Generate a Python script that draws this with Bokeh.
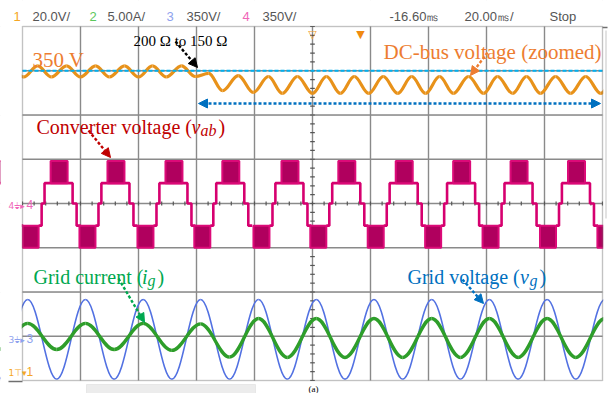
import numpy as np
from bokeh.plotting import figure
from bokeh.models import Label, Arrow, NormalHead, Range1d, BoxAnnotation
from bokeh.embed import file_html
from bokeh.resources import INLINE

# ---------------- data, in screen divisions (x: 20 ms/div, y: per channel scale) -------------
# Grid voltage v_g (ch3, 350 V/div): extrema times [div] and levels [div]
vg_t = [-0.41, 0.09, 0.59, 1.085, 1.58, 2.08, 2.575, 3.07, 3.57, 4.07, 4.565,
        5.065, 5.56, 6.06, 6.555, 7.055, 7.55, 8.05, 8.545, 9.045, 9.54, 10.04]
vg_v = [-3.97, -2.17, -3.97, -2.17, -3.97, -2.17, -3.97, -2.17, -3.97, -2.17, -3.97,
        -2.17, -3.97, -2.17, -3.97, -2.17, -3.97, -2.17, -3.97, -2.17, -3.97, -2.17]

# Grid current i_g (ch2, 5 A/div): extrema levels (same instants as v_g)
ig_t = vg_t
ig_v = [-3.30, -2.71, -3.30, -2.71, -3.30, -2.71, -3.32, -2.72, -3.47, -2.60, -3.48,
        -2.60, -3.48, -2.60, -3.48, -2.60, -3.48, -2.60, -3.48, -2.60, -3.48, -2.60]

# DC-bus voltage, zoomed (ch1, 20 V/div): ripple extrema
vdc_t = [-0.23, 0.02, 0.26, 0.50, 0.76, 1.00, 1.26, 1.50, 1.76, 2.00, 2.24, 2.48, 2.74,
         2.98, 3.21, 3.45, 3.72, 3.98, 4.24, 4.48, 4.74, 5.00, 5.24, 5.48, 5.72, 5.97,
         6.22, 6.47, 6.71, 6.95, 7.19, 7.43, 7.69, 7.95, 8.19, 8.45, 8.69, 8.93, 9.19,
         9.45, 9.71, 9.97, 10.22]
vdc_v = [3.11, 2.86, 3.11, 2.86, 3.11, 2.86, 3.11, 2.86, 3.11, 2.86, 3.11, 2.86, 3.11,
         2.87, 2.94, 2.55, 2.89, 2.51, 2.87, 2.49, 2.87, 2.49, 2.87, 2.49, 2.87, 2.49,
         2.87, 2.49, 2.87, 2.49, 2.87, 2.49, 2.87, 2.49, 2.87, 2.49, 2.87, 2.49, 2.87,
         2.49, 2.87, 2.49, 2.87]
vdc_ref = 3.0          # 350 V reference line

# Converter voltage v_ab (ch4, 350 V/div): centres of negative PWM blocks [div]
vab_c = [-0.85, 0.14, 1.12, 2.12, 3.10, 4.12, 5.10, 6.09, 7.08, 8.07, 9.06, 10.05]
# one-period staircase: offsets from block centre, levels
vab_pat_dt = [0.138, 0.19, 0.19, 0.24, 0.24, 0.345, 0.638, 0.724, 0.724, 0.793, 0.793, 0.862]
vab_pat_lv = [-0.50, -0.50, 0.0, 0.0, 0.46, 0.46, 0.46, 0.46, 0.0, 0.0, -0.50, -0.50]
vab_blk_lo = [-0.138, 0.138, -1.0, -0.50]   # negative block: t0, t1, y0, y1
vab_blk_hi = [0.345, 0.638, 0.46, 0.96]     # positive block

header = [("1", "#F5A623"), ("20.0V/", "#555555"), ("2", "#5CC85C"), ("5.00A/", "#555555"),
          ("3", "#8EA2EE"), ("350V/", "#555555"), ("4", "#F066B8"), ("350V/", "#555555"),
          ("-16.60\u33b3", "#555555"), ("20.00\u33b3/", "#555555"), ("Stop", "#555555")]
header_px = [13, 32, 89, 107, 166, 186, 242, 262, 389, 464, 549]

# ---------------- figure: canvas == frame, scope screen mapped to 0..10 x -4..4 -------------
W, H = 611, 393
X0, DX, Y0, DY = 22.0, 58.0, 203.0, 44.25   # picture pixel mapping
def dx(px):
    return (px - X0) / DX
def dy(py):
    return (Y0 - py) / DY

p = figure(width=W, height=H, x_range=Range1d(dx(0), dx(W)), y_range=Range1d(dy(H), dy(0)),
           output_backend="svg", toolbar_location=None,
           x_axis_location=None, y_axis_location=None,
           min_border_left=0, min_border_right=0, min_border_top=0, min_border_bottom=0)
p.outline_line_color = None
p.background_fill_color = "white"
p.border_fill_color = "white"

gcol = "#8a8a8a"
gx = list(range(1, 10))
gy = list(range(-3, 4))
p.segment(x0=gx, y0=-4, x1=gx, y1=4, line_color=gcol, line_width=1.4)
p.segment(x0=0, y0=gy, x1=10, y1=gy, line_color=gcol, line_width=1.4)
# minor ticks on centre axes
tx = np.arange(0, 10.01, 0.2)
p.segment(x0=tx, y0=-0.045, x1=tx, y1=0.045, line_color="#555555", line_width=1.2)
ty = np.arange(-4, 4.01, 0.2)
p.segment(x0=5 - 0.04, y0=ty, x1=5 + 0.04, y1=ty, line_color="#555555", line_width=1.2)


def bez(t, v, color, width):
    k = 1 - 2 / np.pi
    t = np.asarray(t, float)
    v = np.asarray(v, float)
    d = t[1:] - t[:-1]
    p.bezier(x0=t[:-1], y0=v[:-1], x1=t[1:], y1=v[1:],
             cx0=t[:-1] + k * d, cy0=v[:-1], cx1=t[1:] - k * d, cy1=v[1:],
             line_color=color, line_width=width)

# traces
bez(vg_t, vg_v, "#5271E2", 1.6)
bez(ig_t, ig_v, "#2E9E2A", 3.4)
bez(vdc_t, vdc_v, "#E8921A", 3.2)

# converter voltage staircase
xs, ys = [], []
ql, qr, qb, qt = [], [], [], []
for c in vab_c:
    xs.append([c + d for d in vab_pat_dt])
    ys.append(list(vab_pat_lv))
    ql += [c + vab_blk_lo[0], c + vab_blk_hi[0]]
    qr += [c + vab_blk_lo[1], c + vab_blk_hi[1]]
    qb += [vab_blk_lo[2], vab_blk_hi[2]]
    qt += [vab_blk_lo[3], vab_blk_hi[3]]
p.multi_line(xs, ys, line_color="#D6006F", line_width=2.6)
p.quad(left=ql, right=qr, bottom=qb, top=qt, fill_color="#B0005E",
       line_color="#DC0A78", line_width=2)

# 350 V reference line
p.segment(x0=0, y0=vdc_ref, x1=10, y1=vdc_ref, line_color="#00B0F0",
          line_width=2, line_dash="4 2")

# white masks outside the scope screen
e = 0.012
for kw in (dict(right=-e), dict(left=10 + e), dict(bottom=4 + e), dict(top=-4 - e)):
    p.add_layout(BoxAnnotation(fill_color="white", fill_alpha=1, line_alpha=0, **kw))
# screen border
p.add_layout(BoxAnnotation(left=0, right=10, bottom=-4, top=4, fill_alpha=0,
                           line_color="#6f6f6f", line_width=1.5))

def line(x0, y0, x1, y1, color, width=1.5):
    p.add_layout(Arrow(end=None, x_start=x0, y_start=y0, x_end=x1, y_end=y1,
                       line_color=color, line_width=width))

line(dx(8), dy(381), dx(22), dy(381), "#6f6f6f")
line(dx(602), dy(27), dx(607), dy(27), "#6f6f6f")
line(dx(605.5), dy(30), dx(605.5), dy(218), "#cfcfcf", 1.2)
# slider bar at bottom
p.add_layout(BoxAnnotation(left=dx(86), right=dx(255), bottom=dy(394), top=dy(384),
                           fill_color="#ececec", fill_alpha=1, line_color="#c8c8c8",
                           line_width=1))

def arrow(x0, y0, x1, y1, color, both=False, size=9):
    kw = dict(end=NormalHead(size=size, fill_color=color, line_color=color),
              x_start=x0, y_start=y0, x_end=x1, y_end=y1,
              line_color=color, line_width=2.4, line_dash="3 2")
    if both:
        kw["start"] = NormalHead(size=size, fill_color=color, line_color=color)
    p.add_layout(Arrow(**kw))

arrow(dx(198), dy(103), dx(600), dy(103), "#0070C0", both=True)
arrow(dx(175), dy(41), dx(197), dy(67), "#000000")
arrow(dx(487), dy(52), dx(470), dy(75), "#ED7D31")
arrow(dx(88), dy(130), dx(110), dy(157), "#C00000")
arrow(dx(118), dy(278), dx(144), dy(322), "#00A84F")
arrow(dx(462), dy(279), dx(483), dy(303), "#0070C0")

SERIF = "Liberation Serif"
def lab(px, py, text, color, size=20, style="normal", font=SERIF, align="left",
        baseline="alphabetic"):
    p.add_layout(Label(x=dx(px), y=dy(py), text=text, text_color=color,
                       text_font=font, text_font_size=f"{size}px", text_font_style=style,
                       text_align=align, text_baseline=baseline))

lab(32, 59.5, "350 V", "#ED7D31", 21)
lab(133, 40, "200 \u03a9 to 150 \u03a9", "#000000", 15)
lab(383, 51, "DC-bus voltage (zoomed)", "#ED7D31", 21)

lab(36, 126, "Converter voltage (", "#C00000", 20)
lab(191, 126, "v", "#C00000", 20, "italic")
lab(200, 130, "ab", "#C00000", 16, "italic")
lab(218, 126, ")", "#C00000", 20)

lab(33, 276, "Grid current (", "#00A84F", 20)
lab(141.5, 276, "i", "#00A84F", 20, "italic")
lab(147, 280, "g", "#00A84F", 16, "italic")
lab(157, 276, ")", "#00A84F", 20)

lab(407, 276, "Grid voltage (", "#0070C0", 20)
lab(519.5, 276, "v", "#0070C0", 20, "italic")
lab(529, 280, "g", "#0070C0", 16, "italic")
lab(539, 276, ")", "#0070C0", 20)

lab(313, 383, "(a)", "#000000", 9, align="center", baseline="top")

# header
for (txt, col), px in zip(header, header_px):
    lab(px, 16, txt, col, 13, font="Liberation Sans", baseline="middle")

# channel markers at left
SANS = "DejaVu Sans"
lab(8, 205, "4\u23da\u25b8", "#F066B8", 9, font=SANS, baseline="middle")
lab(26, 204, "4", "#F066B8", 12, font="Liberation Sans", baseline="middle")
lab(8, 339, "3\u23da\u25b8", "#8EA2EE", 9, font=SANS, baseline="middle")
lab(26, 338, "3", "#8EA2EE", 12, font="Liberation Sans", baseline="middle")
lab(8, 372, "1\u22a4\u25be", "#F5A623", 9, font=SANS, baseline="middle")
lab(26, 371, "1", "#F5A623", 12, font="Liberation Sans", baseline="middle")

# trigger markers at top
lab(312, 27, "\u25bd", "#F0A030", 11, font=SANS, align="center", baseline="top")
lab(360, 27, "\u25bc", "#F08A10", 11, font=SANS, align="center", baseline="top")

open("out.html", "w").write(file_html(p, INLINE))
